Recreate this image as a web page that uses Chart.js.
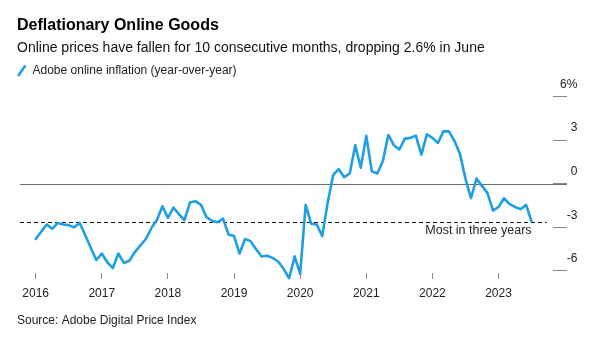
<!DOCTYPE html>
<html>
<head>
<meta charset="utf-8">
<script src="https://cdn.jsdelivr.net/npm/chart.js@4/dist/chart.umd.min.js"></script>
<style>
  html, body { margin: 0; padding: 0; background: #ffffff; }
  canvas { display: block; }
</style>
</head>
<body>
<canvas id="chart" width="589" height="344"></canvas>
<script>
// ---- Data (monthly, Dec 2015 .. Jun 2023, plotted at month end) ----
const monthNames = ['Jan','Feb','Mar','Apr','May','Jun','Jul','Aug','Sep','Oct','Nov','Dec'];
const categories = [];
for (let i = 0; i < 91; i++) {
  const m = (11 + i) % 12;
  const y = 2015 + Math.floor((11 + i) / 12);
  categories.push(monthNames[m] + ' ' + y);
}

const inflationValues = [
  -3.8, -3.3, -2.8, -3.1, -2.7, -2.8, -2.85, -3.0, -2.7, -3.55, -4.4, -5.25,
  -4.8, -5.4, -5.8, -4.8, -5.45, -5.3, -4.7, -4.25, -3.8, -3.05, -2.5, -1.55,
  -2.35, -1.65, -2.1, -2.5, -1.3, -1.2, -1.45, -2.3, -2.55, -2.65, -2.4, -3.5,
  -3.6, -4.8, -3.8, -3.95, -4.5, -5.0, -4.95, -5.1, -5.35, -5.85, -6.5, -5.0,
  -6.2, -1.45, -2.75, -2.8, -3.6, -1.3, 0.6, 1.0, 0.45, 0.7, 2.65, 1.1,
  3.3, 0.85, 0.7, 1.55, 3.35, 2.65, 2.35, 3.1, 3.15, 3.3, 2.0, 3.4,
  3.15, 2.8, 3.6, 3.6, 2.95, 2.05, 0.35, -1.0, 0.35, -0.15, -0.65, -1.85,
  -1.6, -1.0, -1.4, -1.6, -1.75, -1.45, -2.6
];

const yearTickIndex = [0, 12, 24, 36, 48, 60, 72, 84];
const yearLabels = ['2016', '2017', '2018', '2019', '2020', '2021', '2022', '2023'];
const yTickValues = [-6, -3, 0, 3, 6];
const yTickLabels = ['-6', '-3', '0', '3', '6%'];

const refValue = -2.6;
const refLabel = 'Most in three years';

const FONT = '"Liberation Sans", Arial, Helvetica, sans-serif';
const LINE_COLOR = '#1f9fe2';

const refLines = {
  id: 'refLines',
  beforeDatasetsDraw(chart) {
    const {ctx, chartArea, scales: {x, y}} = chart;
    ctx.save();
    // zero line
    const y0 = Math.round(y.getPixelForValue(0)) + 0.5;
    ctx.strokeStyle = '#6b6b6b';
    ctx.lineWidth = 1;
    ctx.beginPath();
    ctx.moveTo(chartArea.left + 3, y0);
    ctx.lineTo(chartArea.right + 14, y0);
    ctx.stroke();
    // dashed reference line
    const yr = Math.round(y.getPixelForValue(refValue)) + 0.5;
    const xEnd = x.getPixelForValue(inflationValues.length - 1) + 15;
    ctx.strokeStyle = '#111';
    ctx.lineWidth = 1.2;
    ctx.setLineDash([4, 3]);
    ctx.beginPath();
    ctx.moveTo(chartArea.left + 3, yr);
    ctx.lineTo(xEnd, yr);
    ctx.stroke();
    ctx.restore();
  },
  afterDatasetsDraw(chart) {
    const {ctx, scales: {x, y}} = chart;
    ctx.save();
    ctx.font = '12.5px ' + FONT;
    ctx.fillStyle = '#222';
    ctx.textAlign = 'right';
    ctx.textBaseline = 'middle';
    ctx.fillText(refLabel, x.getPixelForValue(inflationValues.length - 1), y.getPixelForValue(refValue) + 9.5);
    ctx.restore();
  }
};

new Chart(document.getElementById('chart'), {
  type: 'line',
  data: {
    labels: categories,
    datasets: [{
      label: 'Adobe online inflation (year-over-year)',
      data: inflationValues.map((v, i) => ({x: i, y: v})),
      borderColor: LINE_COLOR,
      backgroundColor: LINE_COLOR,
      borderWidth: 2.6,
      pointRadius: 0,
      pointRotation: -55,
      pointStyle: 'line',
      tension: 0,
      clip: false,
      borderJoinStyle: 'round',
      borderCapStyle: 'round'
    }]
  },
  options: {
    responsive: false,
    animation: false,
    layout: { padding: { top: 5, left: 17, right: 11.7, bottom: 16 } },
    plugins: {
      title: {
        display: true,
        text: 'Deflationary Online Goods',
        align: 'start',
        color: '#000',
        font: { family: FONT, size: 16, weight: 'bold', lineHeight: 1.2 },
        padding: { top: 11, bottom: 3 }
      },
      subtitle: {
        display: true,
        text: 'Online prices have fallen for 10 consecutive months, dropping 2.6% in June',
        align: 'start',
        color: '#111',
        font: { family: FONT, size: 14, lineHeight: 1.2 },
        padding: { top: 2, bottom: 7.7 }
      },
      legend: {
        display: true,
        align: 'start',
        labels: {
          usePointStyle: true,
          boxWidth: 9.5,
          boxHeight: 9,
          padding: 0,
          color: '#222',
          font: { family: FONT, size: 12 }
        }
      },
      tooltip: { enabled: false }
    },
    scales: {
      x: {
        type: 'linear',
        min: -3.39,
        max: 93.88,
        afterBuildTicks: (scale) => { scale.ticks = yearTickIndex.map(v => ({value: v})); },
        ticks: {
          autoSkip: false,
          maxRotation: 0,
          padding: 7,
          color: '#222',
          font: { family: FONT, size: 12 },
          callback: (value, index) => yearLabels[index]
        },
        grid: {
          drawOnChartArea: false,
          drawTicks: true,
          tickLength: 6,
          tickColor: '#8a8a8a'
        },
        border: { display: false },
        title: {
          display: true,
          text: 'Source: Adobe Digital Price Index',
          align: 'start',
          color: '#222',
          font: { family: FONT, size: 12, lineHeight: 1.2 },
          padding: { top: 6.2, bottom: 0 }
        }
      },
      y: {
        type: 'linear',
        position: 'right',
        min: -6.14,
        max: 6.67,
        afterBuildTicks: (scale) => { scale.ticks = yTickValues.map(v => ({value: v})); },
        ticks: {
          padding: -3.5,
          crossAlign: 'far',
          labelOffset: -12,
          color: '#222',
          font: { family: FONT, size: 12 },
          callback: (value, index) => yTickLabels[index]
        },
        grid: {
          drawOnChartArea: false,
          drawTicks: true,
          tickLength: 14,
          tickColor: '#8a8a8a'
        },
        border: { display: false }
      }
    }
  },
  plugins: [refLines]
});
</script>
</body>
</html>
